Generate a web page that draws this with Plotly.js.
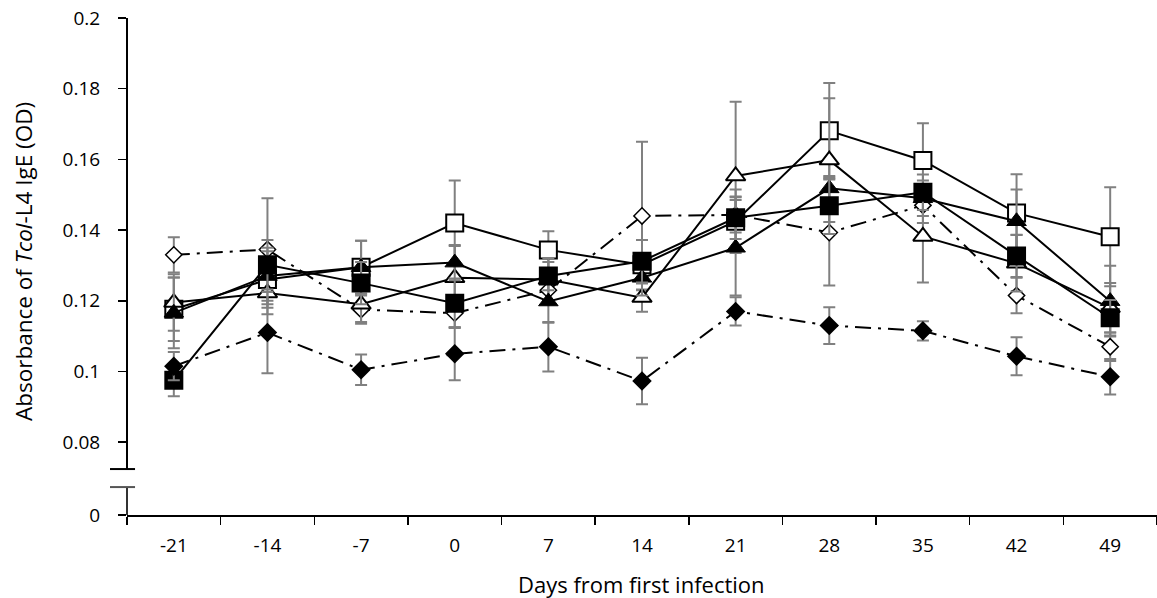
<!DOCTYPE html>
<html>
<head>
<meta charset="utf-8">
<script src="https://cdn.plot.ly/plotly-3.0.1.min.js"></script>
<style>
  html, body { margin: 0; padding: 0; background: #fff; }
  #chart { width: 1157px; height: 598px; }
</style>
</head>
<body>
<div id="chart"></div>
<script>
// Days relative to the first infection
const days = ['-21', '-14', '-7', '0', '7', '14', '21', '28', '35', '42', '49'];

// Mean absorbance (OD) per group, with SE
const openDiamond    = [0.133, 0.1345, 0.1175, 0.1165, 0.123, 0.144, 0.1443, 0.1393, 0.147, 0.1215, 0.107];
const openDiamondErr = [0.005, 0.0145, 0.004, 0.004, 0.004, 0.021, 0.005, 0.015, 0.005, 0.005, 0.004];

const filledDiamond    = [0.1015, 0.111, 0.1005, 0.105, 0.107, 0.0973, 0.117, 0.113, 0.1115, 0.1043, 0.0985];
const filledDiamondErr = [0.004, 0.0115, 0.0043, 0.0075, 0.007, 0.0066, 0.004, 0.0052, 0.0027, 0.0054, 0.005];

const openSquare    = [0.1176, 0.126, 0.1295, 0.142, 0.1344, 0.1302, 0.1425, 0.1681, 0.1597, 0.1448, 0.1381];
const openSquareErr = [0.009, 0.008, 0.0075, 0.012, 0.0053, 0.007, 0.009, 0.0135, 0.0105, 0.011, 0.014];

const filledSquare    = [0.0975, 0.1302, 0.125, 0.1193, 0.127, 0.1312, 0.1435, 0.1469, 0.1507, 0.1327, 0.1152];
const filledSquareErr = [0.0045, 0.007, 0.006, 0.007, 0.004, 0.006, 0.006, 0.008, 0.005, 0.006, 0.005];

const openTriangle    = [0.1195, 0.1222, 0.119, 0.1265, 0.126, 0.1209, 0.1553, 0.1598, 0.1382, 0.1306, 0.118];
const openTriangleErr = [0.008, 0.006, 0.005, 0.009, 0.006, 0.004, 0.021, 0.0175, 0.013, 0.008, 0.007];

const filledTriangle    = [0.1166, 0.127, 0.1295, 0.1308, 0.1198, 0.1265, 0.135, 0.1518, 0.149, 0.1425, 0.1199];
const filledTriangleErr = [0.010, 0.008, 0.0075, 0.005, 0.006, 0.005, 0.0135, 0.0035, 0.005, 0.009, 0.010];

// Value axis tick labels; the lowest position stands for 0 below the axis break
const yTickText = ['0', '0.08', '0.1', '0.12', '0.14', '0.16', '0.18', '0.2'];
const Y_ZERO = 0.0594;
const yTickVals = [Y_ZERO, 0.08, 0.10, 0.12, 0.14, 0.16, 0.18, 0.20];

const FONT = '"Open Sans", Lato, "Liberation Sans", sans-serif';
const ERR_COLOR = '#808080';
const DASHDOT = '16px,7px,3px,7px';

function errBar(arr) {
  return { type: 'data', array: arr, visible: true, color: ERR_COLOR, thickness: 2, width: 6 };
}

function series(y, err, symbol, size, filled, lineW, dash) {
  return {
    x: days,
    y: y,
    type: 'scatter',
    mode: 'lines+markers',
    line: { color: '#000', width: 2, dash: dash || 'solid' },
    marker: {
      symbol: symbol,
      size: size,
      color: filled ? '#000' : '#fff',
      line: { color: '#000', width: lineW }
    },
    error_y: errBar(err),
    showlegend: false,
    cliponaxis: false,
    hoverinfo: 'x+y'
  };
}

const traces = [
  series(openDiamond, openDiamondErr, 'diamond', 12.5, false, 1.5, DASHDOT),
  series(openSquare, openSquareErr, 'square', 17, false, 2),
  series(openTriangle, openTriangleErr, 'triangle-up', 17, false, 2),
  series(filledTriangle, filledTriangleErr, 'triangle-up', 17, true, 1),
  series(filledSquare, filledSquareErr, 'square', 17, true, 2),
  series(filledDiamond, filledDiamondErr, 'diamond', 15, true, 0, DASHDOT)
];

// Broken value axis: upper segment, lower segment and the two break marks
const BREAK_HI = 0.0724;
const BREAK_LO = 0.0673;
const shapes = [
  { type: 'line', xref: 'paper', yref: 'y', x0: 0, x1: 0, y0: BREAK_HI, y1: 0.2,
    line: { color: '#000', width: 2 } },
  { type: 'line', xref: 'paper', yref: 'y', x0: 0, x1: 0, y0: Y_ZERO, y1: BREAK_LO,
    line: { color: '#333', width: 2 } },
  { type: 'line', xref: 'paper', yref: 'y', x0: -0.0165, x1: 0.0078, y0: BREAK_HI, y1: BREAK_HI,
    line: { color: '#000', width: 2 } },
  { type: 'line', xref: 'paper', yref: 'y', x0: -0.0165, x1: 0.0078, y0: BREAK_LO, y1: BREAK_LO,
    line: { color: '#555', width: 2 } }
];

// Axis titles placed as annotations in paper coordinates
const annotations = [
  { text: 'Days from first infection', xref: 'paper', yref: 'paper', x: 0.4995, y: -0.1388,
    xanchor: 'center', yanchor: 'middle', showarrow: false,
    font: { family: FONT, size: 22, color: '#000' } },
  { text: 'Absorbance of <i>Tcol</i>-L4 IgE (OD)', xref: 'paper', yref: 'paper', x: -0.101, y: 0.511,
    xanchor: 'center', yanchor: 'middle', textangle: -90, showarrow: false,
    font: { family: FONT, size: 22.5, color: '#000' } }
];

const layout = {
  width: 1157,
  height: 598,
  margin: { l: 127, r: 0, t: 18, b: 83, pad: 0 },
  paper_bgcolor: '#fff',
  plot_bgcolor: '#fff',
  font: { family: FONT, color: '#000', size: 18 },
  showlegend: false,
  xaxis: {
    type: 'category',
    range: [-0.5, 10.5],
    tickson: 'boundaries',
    ticks: 'outside',
    ticklen: 8,
    tickwidth: 1.5,
    tickcolor: '#000',
    ticklabelstandoff: 12,
    showline: true,
    linecolor: '#000',
    linewidth: 2,
    showgrid: false,
    zeroline: false,
    tickfont: { family: FONT, size: 19, color: '#000' },
    automargin: false
  },
  yaxis: {
    range: [Y_ZERO, 0.2],
    tickvals: yTickVals,
    ticktext: yTickText,
    ticks: 'outside',
    ticklen: 8,
    tickwidth: 1.5,
    tickcolor: '#000',
    ticklabelstandoff: 14,
    showline: false,
    showgrid: false,
    zeroline: false,
    tickfont: { family: FONT, size: 19, color: '#000' },
    automargin: false
  },
  shapes: shapes,
  annotations: annotations
};

Plotly.newPlot('chart', traces, layout, { displayModeBar: false, staticPlot: true });
</script>
</body>
</html>
